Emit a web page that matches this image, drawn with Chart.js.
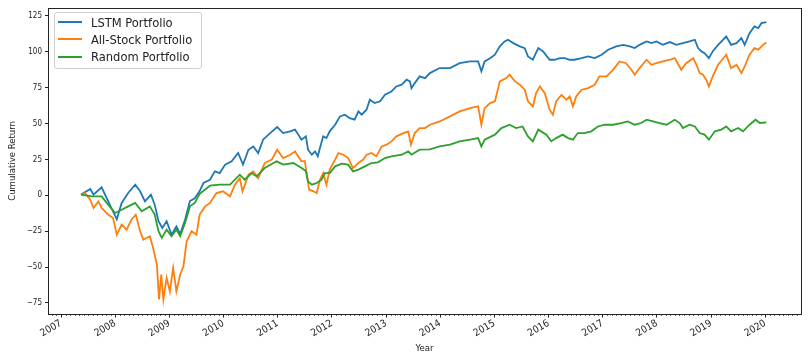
<!DOCTYPE html>
<html>
<head>
<meta charset="utf-8">
<script src="https://cdn.jsdelivr.net/npm/chart.js@4.4.1/dist/chart.umd.min.js"></script>
<style>
  html, body { margin: 0; padding: 0; background: #fff; }
  #wrap { position: relative; width: 809px; height: 358px; }
  #legend {
    position: absolute; left: 54px; top: 12px; width: 143px;
    border: 1px solid #d0d0d0; border-radius: 3px; background: rgba(255,255,255,0.8);
    padding: 0.5px 0 2.5px 3px;
    font-family: "DejaVu Sans Condensed", "DejaVu Sans", sans-serif; font-size: 12.8px; color: #222;
  }
  #legend .row { height: 17.3px; line-height: 17.3px; display: flex; align-items: center; white-space: nowrap; }
  #legend .swatch { width: 24px; height: 2px; margin-right: 9px; }
</style>
</head>
<body>
<div id="wrap">
  <canvas id="chart" width="809" height="358"></canvas>
  <div id="legend"></div>
</div>
<script>
// Valeurs (années décimales / rendement cumulé)
const seriesNames = ['LSTM Portfolio', 'All-Stock Portfolio', 'Random Portfolio'];
const seriesColors = ['#1f77b4', '#ff7f0e', '#2ca02c'];
const yearTicks = [2007, 2008, 2009, 2010, 2011, 2012, 2013, 2014, 2015, 2016, 2017, 2018, 2019, 2020];
const returnTicks = [-75, -50, -25, 0, 25, 50, 75, 100, 125];

const lstmYears = [2007.37, 2007.54, 2007.60, 2007.75, 2007.87, 2008.03, 2008.12, 2008.24, 2008.37, 2008.46,
  2008.55, 2008.66, 2008.73, 2008.80, 2008.87, 2008.95, 2009.04, 2009.13, 2009.20, 2009.29,
  2009.38, 2009.47, 2009.56, 2009.63, 2009.75, 2009.84, 2009.93, 2010.03, 2010.15, 2010.27,
  2010.36, 2010.46, 2010.55, 2010.64, 2010.73, 2010.86, 2010.99, 2011.10, 2011.23, 2011.32,
  2011.44, 2011.52, 2011.56, 2011.63, 2011.69, 2011.74, 2011.78, 2011.84, 2011.90, 2011.96,
  2012.06, 2012.15, 2012.24, 2012.33, 2012.42, 2012.49, 2012.55, 2012.64, 2012.70, 2012.79,
  2012.89, 2012.98, 2013.10, 2013.19, 2013.29, 2013.38, 2013.44, 2013.47, 2013.53, 2013.62,
  2013.72, 2013.81, 2013.99, 2014.18, 2014.36, 2014.55, 2014.70, 2014.76, 2014.82, 2014.92,
  2015.01, 2015.10, 2015.19, 2015.25, 2015.35, 2015.47, 2015.56, 2015.62, 2015.71, 2015.81,
  2015.90, 2016.02, 2016.11, 2016.21, 2016.30, 2016.39, 2016.48, 2016.61, 2016.73, 2016.85,
  2016.98, 2017.10, 2017.25, 2017.38, 2017.50, 2017.59, 2017.68, 2017.81, 2017.90, 2017.99,
  2018.11, 2018.24, 2018.36, 2018.48, 2018.60, 2018.70, 2018.76, 2018.82, 2018.88, 2018.96,
  2019.03, 2019.13, 2019.28, 2019.37, 2019.47, 2019.56, 2019.62, 2019.71, 2019.80, 2019.87,
  2019.93, 2020.02];
const lstmValues = [0.5, 4.4, 0.5, 5.6, -4, -16.7, -5.3, 1.6, 7.4, 2.8,
  -4.2, 0.5, -6.5, -18, -22.8, -18, -27.4, -21.6, -27, -17,
  -4, -2, 3, 8.6, 10.9, 16.7, 15.5, 21.4, 23.7, 29.5,
  21.4, 31.8, 34.1, 29.5, 38.8, 43.4, 47.6, 43.4, 44.6, 45.8,
  38.8, 41.1, 31.8, 28.3, 30.6, 27.2, 33, 41.1, 39.9, 44.6,
  49.2, 55, 56.2, 53.8, 52.7, 58.5, 56.2, 59.7, 66.6, 64.3,
  65.5, 70.1, 72.4, 75.9, 77.1, 80.6, 79.4, 74.7, 78.2, 82.9,
  81.7, 85.2, 88.7, 88.7, 92.1, 93.3, 93.3, 86.4, 93.3, 95.6,
  98, 103.8, 107.3, 108.4, 106.1, 103.8, 102.6, 96.8, 94.5, 102.6,
  100.3, 94.5, 94.5, 95.6, 95.6, 94.5, 94.5, 95.6, 96.8, 95.6,
  98, 101.5, 103.8, 104.9, 103.8, 102.6, 104.9, 107.3, 106.1, 107.3,
  104.9, 106.8, 104.9, 106.1, 107.3, 108.4, 102.6, 100.3, 99.1, 95.6,
  100.3, 104.9, 110.7, 104.9, 106.1, 109.6, 104.9, 113, 117.7, 116.5,
  120, 120.7];

const allStockYears = [2007.37, 2007.44, 2007.54, 2007.60, 2007.69, 2007.75, 2007.87, 2007.96, 2008.03, 2008.12,
  2008.21, 2008.30, 2008.38, 2008.46, 2008.52, 2008.64, 2008.70, 2008.77, 2008.81, 2008.85,
  2008.89, 2008.95, 2009.01, 2009.07, 2009.13, 2009.20, 2009.26, 2009.32, 2009.41, 2009.50,
  2009.56, 2009.66, 2009.75, 2009.87, 2009.99, 2010.12, 2010.21, 2010.30, 2010.35, 2010.46,
  2010.55, 2010.64, 2010.76, 2010.89, 2010.99, 2011.10, 2011.23, 2011.32, 2011.44, 2011.50,
  2011.58, 2011.66, 2011.72, 2011.78, 2011.84, 2011.90, 2011.96, 2012.06, 2012.12, 2012.21,
  2012.30, 2012.39, 2012.49, 2012.58, 2012.64, 2012.73, 2012.82, 2012.92, 2013.01, 2013.10,
  2013.19, 2013.32, 2013.41, 2013.46, 2013.53, 2013.62, 2013.72, 2013.81, 2013.99, 2014.18,
  2014.36, 2014.55, 2014.70, 2014.76, 2014.82, 2014.92, 2015.01, 2015.10, 2015.22, 2015.28,
  2015.38, 2015.47, 2015.56, 2015.62, 2015.71, 2015.77, 2015.84, 2015.93, 2016.02, 2016.08,
  2016.14, 2016.24, 2016.33, 2016.39, 2016.45, 2016.51, 2016.61, 2016.73, 2016.85, 2016.94,
  2017.07, 2017.19, 2017.31, 2017.43, 2017.53, 2017.59, 2017.68, 2017.81, 2017.90, 2017.99,
  2018.11, 2018.24, 2018.33, 2018.45, 2018.54, 2018.67, 2018.73, 2018.79, 2018.85, 2018.91,
  2018.96, 2019.03, 2019.13, 2019.28, 2019.37, 2019.47, 2019.56, 2019.62, 2019.71, 2019.80,
  2019.87, 2019.96, 2020.02];
const allStockValues = [0, 1.6, -3, -8.8, -4.2, -8.8, -13.4, -15.8, -27.4, -20.4,
  -23.9, -17, -13.4, -25, -30.9, -28.5, -36.7, -48.3, -72.6, -55.2,
  -72.6, -57.6, -66.9, -50.6, -66.9, -55.2, -49.4, -32, -25, -27.4,
  -13.4, -7.7, -5.3, 1.6, 2.8, -0.7, 7.4, 12, 2.8, 14.4,
  16.7, 12, 22.5, 24.9, 31.8, 26, 28.3, 30.6, 23.7, 24,
  4, 2.8, 1.6, 10.9, 15.5, 7.4, 17.9, 24.9, 29.5, 28.3,
  26, 19, 22.5, 24.9, 28.3, 29.5, 27.2, 34.1, 35.3, 37.6,
  41.1, 43.4, 44.6, 35.3, 43.4, 46.9, 46.9, 49.2, 51.5, 55,
  58.5, 60.8, 62, 49.2, 60.8, 64.3, 65.5, 79.4, 81.7, 84.1,
  79.4, 77.1, 73.6, 65.5, 62, 71.2, 75.9, 71.2, 59.7, 56.2,
  65.5, 70.1, 66.6, 68.9, 62, 68.9, 73.6, 74.7, 77.1, 82.9,
  82.9, 87.5, 93.3, 92.1, 87.5, 84.1, 88.7, 94.5, 91, 92.1,
  93.3, 94.5, 95.6, 87.5, 92.1, 95.6, 91, 85.2, 84.1, 80.6,
  75.9, 82.9, 91, 98, 88.7, 91, 85.2, 89.8, 98, 102.6,
  101.5, 104.9, 106.5];

const randomYears = [2007.37, 2007.57, 2007.75, 2007.87, 2008.00, 2008.12, 2008.24, 2008.37, 2008.49, 2008.64,
  2008.73, 2008.80, 2008.86, 2008.95, 2009.04, 2009.13, 2009.20, 2009.29, 2009.38, 2009.47,
  2009.56, 2009.75, 2009.93, 2010.12, 2010.30, 2010.39, 2010.52, 2010.61, 2010.76, 2010.98,
  2011.10, 2011.29, 2011.44, 2011.52, 2011.56, 2011.63, 2011.72, 2011.81, 2011.87, 2011.96,
  2012.06, 2012.18, 2012.30, 2012.39, 2012.49, 2012.61, 2012.73, 2012.85, 2012.98, 2013.10,
  2013.29, 2013.41, 2013.47, 2013.62, 2013.81, 2013.99, 2014.18, 2014.36, 2014.55, 2014.70,
  2014.76, 2014.82, 2015.01, 2015.13, 2015.28, 2015.40, 2015.52, 2015.62, 2015.71, 2015.81,
  2015.96, 2016.05, 2016.14, 2016.26, 2016.36, 2016.45, 2016.54, 2016.66, 2016.79, 2016.91,
  2017.04, 2017.19, 2017.34, 2017.46, 2017.59, 2017.71, 2017.81, 2017.93, 2018.05, 2018.18,
  2018.33, 2018.42, 2018.48, 2018.60, 2018.70, 2018.79, 2018.88, 2018.96, 2019.07, 2019.19,
  2019.28, 2019.37, 2019.50, 2019.59, 2019.71, 2019.82, 2019.90, 2020.02];
const randomValues = [0.5, -0.7, -0.7, -6.5, -12.3, -10, -7.7, -5.3, -11.1, -7.7,
  -13.4, -25, -29.7, -23.9, -28.5, -23.9, -28.5, -19.3, -7.7, -5.3,
  1, 6.7, 7.4, 7.4, 14.4, 10.9, 15.5, 13.2, 19, 23.7,
  21.4, 22.5, 19, 17, 9.7, 7.4, 8.6, 10.9, 15.5, 15.5,
  20.2, 22.1, 21.4, 16.7, 17.9, 20.2, 22.5, 23, 26, 27.2,
  28.3, 30.6, 28.3, 31.8, 32, 34.1, 35.3, 37.6, 38.8, 39.9,
  34.1, 38.8, 42.3, 46.9, 49.2, 46.9, 48, 41.1, 37.6, 45.8,
  42.3, 37.6, 39.9, 42.3, 39.9, 38.8, 43.4, 43.4, 44.6, 48,
  49.2, 49.2, 50.4, 51.5, 49.2, 50.4, 52.7, 51.5, 50.4, 49.2,
  52.7, 50.4, 46.9, 49.2, 48, 43.4, 42.3, 38.8, 44.6, 45.8,
  48, 44.6, 46.9, 44.6, 49.2, 52.7, 50.4, 50.8];

const toPoints = (xs, ys) => xs.map((x, i) => ({ x: x, y: ys[i] }));

const axisColor = '#222';
const fontFamily = '"DejaVu Sans Condensed", "DejaVu Sans", sans-serif';
const yTickFont = { family: fontFamily, size: 8 };
const xTickFont = { family: fontFamily, size: 10 };
const titleFont = { family: fontFamily, size: 9.5 };

// petits traits mensuels + cadre complet comme matplotlib
const frameAndMinorTicks = {
  id: 'frameAndMinorTicks',
  afterDraw(chart) {
    const ctx = chart.ctx;
    const area = chart.chartArea;
    const x = chart.scales.x;
    ctx.save();
    ctx.strokeStyle = axisColor;
    ctx.lineWidth = 0.7;
    ctx.beginPath();
    for (let yr = 2006; yr <= 2021; yr++) {
      for (let m = 1; m < 12; m++) {
        const v = yr + m / 12;
        if (v < x.min || v > x.max) continue;
        const px = Math.round(x.getPixelForValue(v)) + 0.5;
        ctx.moveTo(px, area.bottom);
        ctx.lineTo(px, area.bottom + 2);
      }
    }
    ctx.stroke();
    ctx.lineWidth = 1;
    ctx.strokeRect(Math.round(area.left) + 0.5, Math.round(area.top) + 0.5,
      Math.round(area.right - area.left), Math.round(area.bottom - area.top));
    ctx.restore();
  }
};

const chart = new Chart(document.getElementById('chart'), {
  type: 'line',
  data: {
    datasets: [
      { label: seriesNames[0], data: toPoints(lstmYears, lstmValues), borderColor: seriesColors[0], order: 3 },
      { label: seriesNames[1], data: toPoints(allStockYears, allStockValues), borderColor: seriesColors[1], order: 2 },
      { label: seriesNames[2], data: toPoints(randomYears, randomValues), borderColor: seriesColors[2], order: 1 }
    ]
  },
  options: {
    responsive: false,
    animation: false,
    devicePixelRatio: 1,
    layout: { padding: { left: 0, right: 8, top: 6, bottom: 0 } },
    elements: {
      line: { borderWidth: 1.8, tension: 0, backgroundColor: 'transparent' },
      point: { radius: 0, hoverRadius: 0 }
    },
    plugins: {
      legend: { display: false },
      tooltip: { enabled: false }
    },
    scales: {
      x: {
        type: 'linear',
        min: 2006.76,
        max: 2020.66,
        afterFit: (scale) => { scale.height = 44; },
        afterBuildTicks: (scale) => { scale.ticks = yearTicks.map(v => ({ value: v })); },
        grid: { drawOnChartArea: false, drawTicks: true, tickLength: 3.5, color: axisColor },
        border: { display: false },
        ticks: {
          autoSkip: false, minRotation: 30, maxRotation: 30, padding: 0,
          color: axisColor, font: xTickFont,
          callback: (v) => String(v)
        },
        title: { display: true, text: 'Year', color: axisColor, font: titleFont, padding: { top: 0, bottom: 4 } }
      },
      y: {
        min: -82.7,
        max: 130.7,
        afterFit: (scale) => { scale.width = 48; },
        afterBuildTicks: (scale) => { scale.ticks = returnTicks.map(v => ({ value: v })); },
        grid: { drawOnChartArea: false, drawTicks: true, tickLength: 3, color: axisColor },
        border: { display: false },
        ticks: {
          padding: 3, color: axisColor, font: yTickFont,
          callback: (v) => (v < 0 ? '\u2212' + Math.abs(v) : String(v))
        },
        title: { display: true, text: 'Cumulative Return', color: axisColor, font: titleFont, padding: { top: 7, bottom: 0 } }
      }
    }
  },
  plugins: [frameAndMinorTicks]
});

// légende dans le coin haut-gauche
const legend = document.getElementById('legend');
seriesNames.forEach((name, i) => {
  const row = document.createElement('div');
  row.className = 'row';
  const sw = document.createElement('span');
  sw.className = 'swatch';
  sw.style.background = seriesColors[i];
  const label = document.createElement('span');
  label.textContent = name;
  row.appendChild(sw);
  row.appendChild(label);
  legend.appendChild(row);
});
</script>
</body>
</html>
